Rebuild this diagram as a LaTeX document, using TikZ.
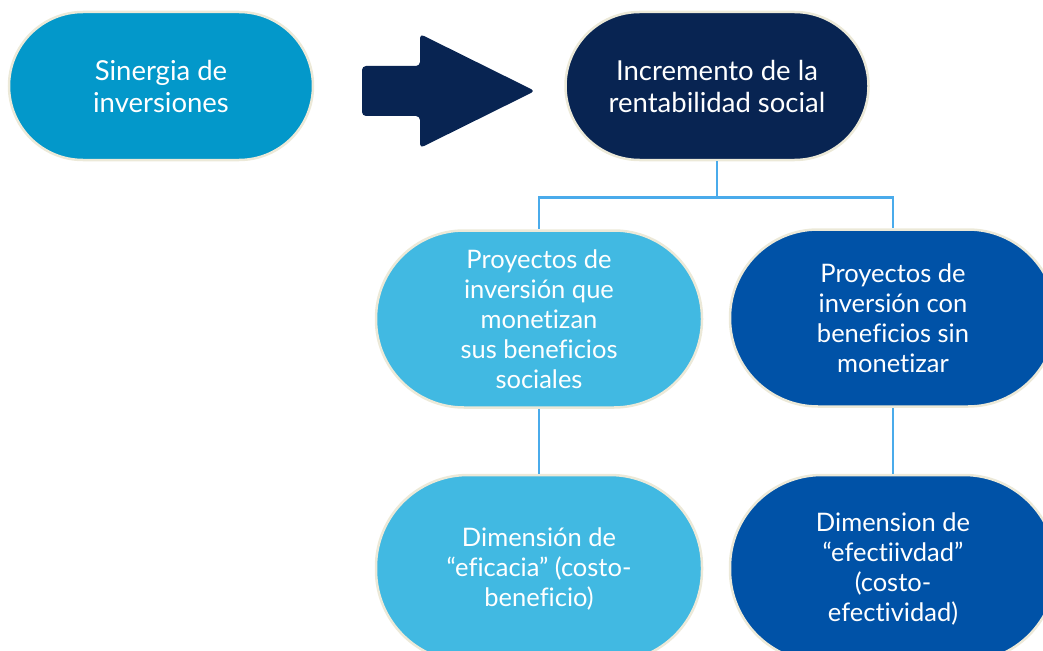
\documentclass[tikz,border=0pt]{standalone}
\usepackage{fontspec}
\setmainfont{Lato}[Ligatures=NoCommon]
\definecolor{cSin}{HTML}{0398CA}
\definecolor{cNavy}{HTML}{082452}
\definecolor{cLight}{HTML}{41B9E2}
\definecolor{cBlue}{HTML}{0052A7}
\definecolor{cLine}{HTML}{4AABEB}
\definecolor{cEdge}{HTML}{ECE9D8}
\begin{document}
\begin{tikzpicture}[x=1pt,y=-1pt,
  pill/.style={draw=cEdge, line width=2.5pt, text=white, align=center, inner sep=0pt,
    font=\fontsize{25.5}{30}\selectfont},
  conn/.style={draw=cLine, line width=2.5pt}]
\useasboundingbox (0,0) rectangle (1043,650);
\clip (0,0) rectangle (1043,650);
% top row
\node[pill, fill=cSin, minimum width=304, minimum height=148, rounded corners=74,
  font=\fontsize{27.5}{32}\selectfont] (sin) at (161,86) {Sinergia de\\inversiones};
\node[pill, fill=cNavy, minimum width=303, minimum height=148, rounded corners=74,
  font=\fontsize{27.5}{32}\selectfont] (inc) at (717,86) {Incremento de la\\rentabilidad social};
% block arrow
\fill[cNavy, rounded corners=4] (362,66) -- (420,66) -- (420,34) -- (535,91) -- (420,148) -- (420,116) -- (362,116) -- cycle;
% middle row
\node[pill, fill=cLight, minimum width=326, minimum height=177, rounded corners=88] (p1) at (539,319)
  {Proyectos de\\inversión que\\monetizan\\sus beneficios\\sociales};
\node[pill, fill=cBlue, minimum width=326, minimum height=177, rounded corners=88] (p2) at (893,318)
  {Proyectos de\\inversión con\\beneficios sin\\monetizar};
% bottom row
\node[pill, fill=cLight, minimum width=326, minimum height=187, rounded corners=92] (d1) at (539,568.5)
  {Dimensión de\\“eficacia” (costo-\\beneficio)};
\node[pill, fill=cBlue, minimum width=326, minimum height=187, rounded corners=92] (d2) at (893,568.5)
  {Dimension de\\“efectiivdad”\\(costo-\\efectividad)};
% connectors
\draw[conn] (inc.south) -- ++(0,36) coordinate (hub) -| (p1.north);
\draw[conn] (hub) -| (p2.north);
\draw[conn] (p1.south) -- (d1.north);
\draw[conn] (p2.south) -- (d2.north);
\end{tikzpicture}
\end{document}
